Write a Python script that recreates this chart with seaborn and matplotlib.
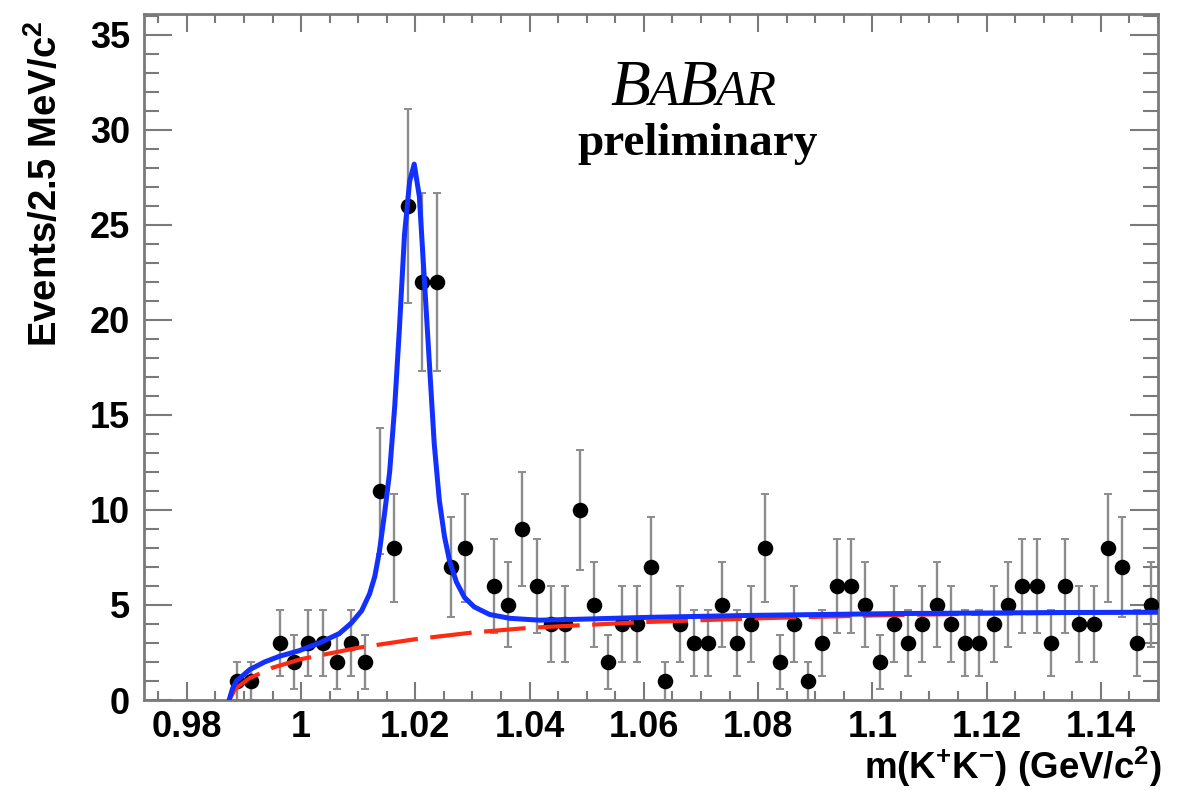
import numpy as np
import pandas as pd
import matplotlib
matplotlib.use("Agg")
import matplotlib.pyplot as plt
import seaborn as sns
from matplotlib.ticker import MultipleLocator, FormatStrFormatter

# bin centres of the m(K+K-) histogram (2.5 MeV bins), GeV/c^2
mass = [0.98875, 0.99125, 0.99375, 0.99625, 0.99875, 1.00125, 1.00375, 1.00625, 1.00875, 1.01125,
        1.01375, 1.01625, 1.01875, 1.02125, 1.02375, 1.02625, 1.02875, 1.03125, 1.03375, 1.03625,
        1.03875, 1.04125, 1.04375, 1.04625, 1.04875, 1.05125, 1.05375, 1.05625, 1.05875, 1.06125,
        1.06375, 1.06625, 1.06875, 1.07125, 1.07375, 1.07625, 1.07875, 1.08125, 1.08375, 1.08625,
        1.08875, 1.09125, 1.09375, 1.09625, 1.09875, 1.10125, 1.10375, 1.10625, 1.10875, 1.11125,
        1.11375, 1.11625, 1.11875, 1.12125, 1.12375, 1.12625, 1.12875, 1.13125, 1.13375, 1.13625,
        1.13875, 1.14125, 1.14375, 1.14625, 1.14875]
counts = [1, 1, 0, 3, 2, 3, 3, 2, 3, 2,
          11, 8, 26, 22, 22, 7, 8, 0, 6, 5,
          9, 6, 4, 4, 10, 5, 2, 4, 4, 7,
          1, 4, 3, 3, 5, 3, 4, 8, 2, 4,
          1, 3, 6, 6, 5, 2, 4, 3, 4, 5,
          4, 3, 3, 4, 5, 6, 6, 3, 6, 4,
          4, 8, 7, 3, 5]

# total fit (blue)
fit_mass = [0.9874, 0.9880, 0.9887, 0.9910, 0.9936, 0.9962, 0.9997, 1.0032, 1.0067, 1.0088,
            1.0106, 1.0120, 1.0129, 1.0137, 1.0146, 1.0155, 1.0164, 1.0172, 1.0181, 1.0190,
            1.0198, 1.0207, 1.0216, 1.0225, 1.0233, 1.0242, 1.0251, 1.0260, 1.0272, 1.0286,
            1.0303, 1.0330, 1.0365, 1.0417, 1.0487, 1.0609, 1.0784, 1.1046, 1.1309, 1.1500]
fit_total = [0.0, 0.6, 1.0, 1.6, 2.0, 2.3, 2.6, 3.0, 3.5, 4.05,
             4.7, 5.6, 6.5, 7.8, 9.8, 12.0, 15.5, 19.5, 24.5, 27.3,
             28.2, 26.5, 22.0, 17.5, 13.5, 10.5, 8.6, 7.3, 6.2, 5.4,
             4.9, 4.5, 4.3, 4.2, 4.25, 4.35, 4.45, 4.55, 4.6, 4.62]

# background component (red dashed)
bkg_mass = [0.9874, 0.9885, 0.9910, 0.9950, 1.0000, 1.0050, 1.0100, 1.0200, 1.0300, 1.0400,
            1.0500, 1.0600, 1.0800, 1.1000, 1.1200, 1.1500]
bkg = [0.0, 0.6, 1.15, 1.7, 2.15, 2.45, 2.75, 3.2, 3.55, 3.8,
       3.95, 4.1, 4.3, 4.45, 4.55, 4.62]

sns.set_theme(style="ticks")
plt.rcParams["font.family"] = ["Liberation Sans", "DejaVu Sans"]
plt.rcParams["font.weight"] = "bold"
plt.rcParams["text.color"] = "black"
plt.rcParams["mathtext.fontset"] = "custom"
plt.rcParams["mathtext.rm"] = "Liberation Sans:bold"
plt.rcParams["mathtext.bf"] = "Liberation Sans:bold"
plt.rcParams["mathtext.it"] = "Liberation Sans:bold"
plt.rcParams["mathtext.default"] = "rm"

fig = plt.figure(figsize=(11.84, 7.9), dpi=100)
ax = fig.add_axes([144 / 1184, 1 - 700 / 790, 1014 / 1184, 686 / 790])

df = pd.DataFrame({"mass": mass, "counts": counts})
df["err"] = np.sqrt(df["counts"])
pts = df[df["counts"] > 0]

ax.errorbar(pts["mass"], pts["counts"], yerr=pts["err"], fmt="none",
            ecolor="#8c8c8c", elinewidth=1.7, capsize=3, capthick=1.4, zorder=2)
sns.scatterplot(x="mass", y="counts", data=pts, ax=ax, color="black", s=125,
                edgecolor="black", linewidth=0, zorder=3)

sns.lineplot(x=bkg_mass, y=bkg, ax=ax, color="#ff2a12", linewidth=3.0, zorder=4)
ax.lines[-1].set_dashes((10, 3))
sns.lineplot(x=fit_mass, y=fit_total, ax=ax, color="#1230ff", linewidth=3.6, zorder=5)

ax.set_xlim(0.9725, 1.15)
ax.set_ylim(0, 36.1)
ax.set_xlabel("")
ax.set_ylabel("")

ax.xaxis.set_major_locator(MultipleLocator(0.02))
ax.xaxis.set_minor_locator(MultipleLocator(0.005))
ax.xaxis.set_major_formatter(FormatStrFormatter("%g"))
ax.yaxis.set_major_locator(MultipleLocator(5))
ax.yaxis.set_minor_locator(MultipleLocator(1))

tc = "#7a7a7a"
ax.tick_params(axis="x", which="major", direction="in", top=True, length=13, width=1.5,
               color=tc, labelcolor="black", labelsize=26, pad=7)
ax.tick_params(axis="x", which="minor", direction="in", top=True, length=6.5, width=1.5, color=tc)
ax.tick_params(axis="y", which="major", direction="in", right=True, length=20, width=1.5,
               color=tc, labelcolor="black", labelsize=26, pad=10)
ax.tick_params(axis="y", which="minor", direction="in", right=True, length=11, width=1.5, color=tc)
for lab in ax.get_xticklabels() + ax.get_yticklabels():
    lab.set_fontweight("bold")
for sp in ax.spines.values():
    sp.set_color(tc)
    sp.set_linewidth(2)

fig.text(45 / 1184, 1 - 20 / 790, r"Events/2.5 MeV/c$^{2}$", rotation=90,
         ha="center", va="top", fontsize=27.5, fontweight="bold")
fig.text(1162 / 1184, 1 - 767 / 790, r"m(K$^{+}$K$^{-}$) (GeV/c$^{2}$)",
         ha="right", va="center", fontsize=26.5, fontweight="bold")

# BaBar logo: big / small-cap italic serif letters chained one after another
serif = ["Liberation Serif", "DejaVu Serif"]
t = fig.text(610 / 1184, 1 - 105 / 790, "B", fontsize=47, family=serif, style="italic",
             fontweight="normal", ha="left", va="baseline")
for piece, size in [("A", 36), ("B", 47), ("AR", 36)]:
    dy = 2 if size == 36 else -2
    t = ax.annotate(piece, xy=(1, 0), xycoords=t, xytext=(-1, dy), textcoords="offset points",
                    ha="left", va="bottom", fontsize=size, family=serif, style="italic",
                    fontweight="normal")
fig.text(698 / 1184, 1 - 155 / 790, "preliminary", fontsize=34, family=serif,
         fontweight="bold", ha="center", va="baseline")

plt.savefig("out.png", dpi=100)
plt.close()
